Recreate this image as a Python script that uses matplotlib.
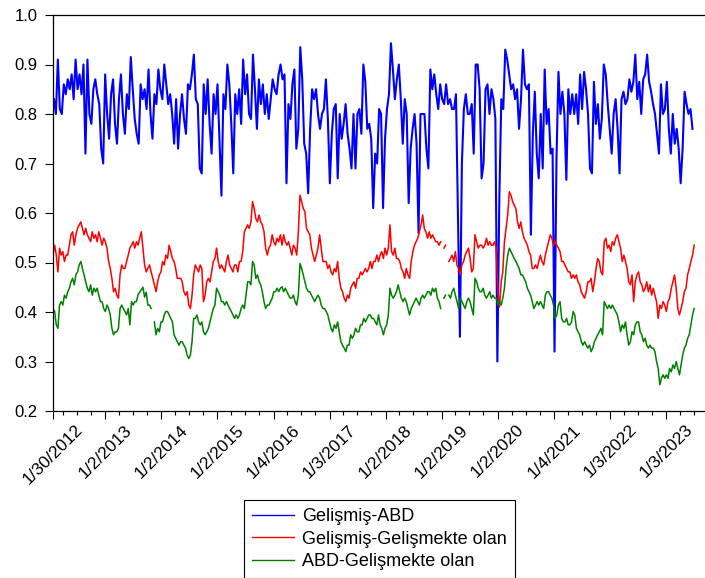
import numpy as np
import pandas as pd
import matplotlib
matplotlib.use("Agg")
import matplotlib.pyplot as plt

plt.rcParams['font.family'] = ['Liberation Sans', 'DejaVu Sans']

# ---------------- data ----------------
series_names = ["Gelişmiş-ABD", "Gelişmiş-Gelişmekte olan", "ABD-Gelişmekte olan"]

blue_start, blue_end = "2012-02-05", "2023-06-22"
rg_start, rg_end = "2012-01-30", "2023-07-03"

nan = np.nan

gelismis_abd = [
    0.83,0.80,0.91,0.81,0.80,0.86,0.84,0.87,0.85,0.88,
    0.83,0.91,0.85,0.88,0.84,0.90,0.72,0.91,0.80,0.78,
    0.85,0.87,0.84,0.82,0.73,0.70,0.88,0.80,0.75,0.84,
    0.87,0.78,0.74,0.83,0.88,0.80,0.76,0.84,0.81,0.915,
    0.85,0.79,0.76,0.74,0.86,0.83,0.85,0.81,0.89,0.80,
    0.75,0.84,0.82,0.89,0.85,0.83,0.90,0.86,0.82,0.84,
    0.80,0.74,0.83,0.73,0.80,0.84,0.79,0.76,0.86,0.85,
    0.88,0.92,0.83,0.82,0.69,0.68,0.86,0.80,0.87,0.78,
    0.72,0.84,0.80,0.86,0.75,0.635,0.84,0.81,0.90,0.86,
    0.78,0.68,0.84,0.80,0.85,0.78,0.91,0.84,0.88,0.80,
    0.79,0.92,0.85,0.77,0.87,0.82,0.86,0.80,0.84,0.79,
    # 2016 - 2019
    0.83,0.87,0.85,0.84,0.88,0.90,0.87,0.88,0.66,0.82,
    0.79,0.86,0.89,0.73,0.77,0.935,0.87,0.74,0.72,0.64,
    0.77,0.85,0.83,0.85,0.80,0.77,0.80,0.81,0.87,0.79,
    0.66,0.76,0.81,0.82,0.67,0.80,0.75,0.78,0.82,0.76,
    0.73,0.69,0.80,0.69,0.80,0.81,0.76,0.90,0.865,0.77,
    0.78,0.75,0.61,0.72,0.70,0.81,0.80,0.61,0.75,0.81,
    0.84,0.943,0.89,0.83,0.87,0.90,0.83,0.74,0.83,0.80,
    0.62,0.73,0.77,0.80,0.74,0.56,0.80,0.80,0.80,0.73,
    0.69,0.89,0.85,0.88,0.84,0.81,0.86,0.83,0.82,0.86,
    0.82,0.83,0.81,0.81,0.84,0.60,0.35,0.70,0.81,0.84,
    0.80,0.80,0.82,0.72,0.90,0.90,0.85,0.67,
    # 2020 - 2023
    0.70,0.85,0.86,0.80,0.85,0.83,0.79,0.30,0.63,0.83,
    0.81,0.93,0.91,0.88,0.85,0.86,0.83,0.85,0.77,0.83,
    0.93,0.86,0.85,0.86,0.556,0.76,0.845,0.72,0.67,0.80,
    0.69,0.89,0.78,0.81,0.72,0.73,0.32,0.71,0.885,0.80,
    0.845,0.80,0.667,0.85,0.80,0.84,0.80,0.84,0.78,0.88,
    0.81,0.885,0.85,0.80,0.69,0.68,0.865,0.78,0.82,0.75,
    0.79,0.90,0.88,0.82,0.77,0.72,0.80,0.83,0.77,0.68,
    0.83,0.845,0.82,0.83,0.87,0.845,0.865,0.92,0.83,0.865,
    0.80,0.87,0.88,0.92,0.865,0.845,0.82,0.80,0.76,0.72,
    0.86,0.80,0.81,0.865,0.77,0.72,0.80,0.74,0.77,0.73,
    0.66,0.73,0.845,0.82,0.80,0.81,0.77,
]

gelismis_gelismekte = [
    0.515,0.535,0.515,0.481,0.529,0.515,0.522,0.502,0.515,0.515,
    0.535,0.556,0.562,0.535,0.556,0.569,0.576,0.582,0.569,0.556,
    0.569,0.556,0.549,0.542,0.562,0.549,0.556,0.542,0.562,0.549,
    0.535,0.549,0.542,0.529,0.502,0.488,0.468,0.441,0.448,0.434,
    0.428,0.475,0.495,0.488,0.488,0.502,0.515,0.529,0.535,0.542,
    0.529,0.542,0.535,0.549,0.562,0.529,0.495,0.481,0.488,0.495,
    0.481,0.468,0.455,0.441,0.461,0.475,0.481,0.502,0.495,0.515,
    0.508,0.535,0.522,0.508,0.502,0.488,0.468,0.468,0.468,0.461,
    0.441,0.434,0.441,0.414,0.407,0.434,0.475,0.495,0.488,0.481,
    0.495,0.488,0.421,0.434,0.461,0.468,0.461,0.481,0.502,0.508,
    0.529,0.502,0.488,0.495,0.488,0.481,0.502,0.515,0.495,0.488,
    0.481,0.495,0.495,0.481,0.502,0.502,0.522,0.562,0.569,0.576,
    0.569,0.582,0.623,0.609,0.589,0.582,0.596,0.582,0.576,0.562,
    0.529,0.515,
    # 2016 - 2019
    0.529,0.535,0.556,0.542,0.535,0.549,0.542,0.556,0.535,0.556,
    0.542,0.535,0.542,0.529,0.515,0.535,0.529,0.515,0.562,0.636,
    0.623,0.609,0.603,0.569,0.562,0.556,0.529,0.515,0.502,0.515,
    0.529,0.556,0.529,0.502,0.502,0.502,0.488,0.495,0.481,0.475,
    0.488,0.481,0.502,0.468,0.448,0.441,0.428,0.421,0.434,0.428,
    0.448,0.455,0.461,0.448,0.468,0.468,0.481,0.475,0.481,0.488,
    0.481,0.488,0.502,0.488,0.502,0.502,0.515,0.502,0.515,0.522,
    0.508,0.529,0.515,0.529,0.576,0.522,0.515,0.529,0.508,0.508,
    0.502,0.488,0.481,0.468,0.488,0.475,0.468,0.502,0.522,0.535,
    0.542,0.549,0.562,0.576,0.596,0.569,0.562,0.549,0.562,0.549,
    0.556,0.549,0.542,0.542,0.535,0.542,nan,0.529,0.535,nan,
    0.502,0.508,0.515,0.502,0.522,0.495,0.488,0.475,0.495,0.502,
    0.515,0.522,0.529,0.508,0.481,0.488,0.556,0.542,0.529,0.535,
    # 2020 - 2023
    0.535,0.529,0.535,0.549,0.535,0.542,0.535,0.535,0.542,0.529,
    0.441,0.410,0.461,0.481,0.542,0.569,0.596,0.643,0.636,0.623,
    0.616,0.609,0.582,0.569,0.582,0.562,0.549,0.542,0.535,0.522,
    0.515,0.488,0.488,0.495,0.488,0.502,0.515,0.502,0.495,0.515,
    0.529,0.542,0.556,0.549,0.535,0.542,0.535,0.529,0.522,0.502,
    0.502,0.495,0.488,0.481,0.481,0.468,0.475,0.468,0.475,0.461,
    0.455,0.441,0.434,0.428,0.441,0.461,0.461,0.468,0.441,0.461,
    0.488,0.508,0.502,0.481,0.475,0.542,0.549,0.529,0.535,0.522,
    0.542,0.535,0.549,0.556,0.542,0.529,0.502,0.515,0.502,0.488,
    0.461,0.455,0.475,0.421,0.461,0.475,0.481,0.461,0.455,0.441,
    0.448,0.461,0.441,0.455,0.434,0.448,0.434,0.421,0.387,0.414,
    0.407,0.421,0.414,0.401,0.421,0.428,0.448,0.461,0.475,0.448,
    0.407,0.394,0.407,0.421,0.441,0.448,0.475,0.488,0.502,0.515,
    0.535,
]

abd_gelismekte = [
    0.407,0.401,0.374,0.367,0.414,0.421,0.414,0.434,0.428,0.441,
    0.448,0.461,0.468,0.455,0.475,0.481,0.495,0.502,0.488,0.475,
    0.461,0.448,0.441,0.455,0.434,0.448,0.441,0.448,0.434,0.421,
    0.421,0.407,0.401,0.414,0.407,0.394,0.367,0.354,0.360,0.360,
    0.367,0.407,0.414,0.407,0.401,0.394,0.407,0.374,0.421,0.414,
    0.421,0.421,0.435,0.440,0.445,0.450,0.430,0.440,0.414,0.414,
    0.407,nan,0.380,0.354,0.367,0.360,0.380,0.380,0.394,0.401,
    0.401,0.394,0.387,0.380,0.354,0.347,0.340,0.333,0.340,0.340,
    0.333,0.327,0.313,0.306,0.313,0.340,0.387,0.387,0.394,0.380,
    0.374,0.380,0.360,0.354,0.360,0.367,0.380,0.394,0.407,0.414,
    0.448,0.441,0.434,0.421,0.421,0.414,0.421,0.414,0.407,0.401,
    0.394,0.387,0.394,0.387,0.394,0.407,0.414,0.407,0.434,0.461,
    0.461,0.455,0.502,0.495,0.468,0.475,0.461,0.455,0.441,0.421,
    0.407,0.414,
    # 2016 - 2019
    0.414,0.421,0.428,0.441,0.441,0.448,0.441,0.448,0.451,0.441,
    0.448,0.441,0.434,0.428,0.428,0.434,0.421,0.414,0.434,0.498,
    0.488,0.475,0.461,0.448,0.441,0.441,0.434,0.428,0.421,0.428,
    0.434,0.428,0.414,0.407,0.407,0.401,0.394,0.380,0.367,0.360,
    0.374,0.367,0.380,0.360,0.340,0.333,0.327,0.320,0.333,0.333,
    0.354,0.347,0.354,0.367,0.360,0.360,0.374,0.374,0.387,0.380,
    0.387,0.394,0.394,0.387,0.387,0.380,0.374,0.394,0.374,0.367,
    0.354,0.367,0.374,0.394,0.448,0.434,0.428,0.434,0.441,0.455,
    0.441,0.428,0.421,0.428,0.421,0.407,0.394,0.407,0.414,0.421,
    0.428,0.421,0.414,0.428,0.434,0.428,0.434,0.441,0.441,0.434,
    0.448,0.441,0.448,0.428,0.421,0.407,nan,0.428,0.434,nan,
    0.434,0.428,0.441,0.448,0.434,0.421,0.407,0.428,0.421,0.414,
    0.407,0.421,0.428,0.421,0.407,0.394,0.468,0.461,0.448,0.441,
    # 2020 - 2023
    0.441,0.448,0.434,0.428,0.434,0.441,0.428,0.434,0.428,0.428,
    0.414,0.421,0.414,0.428,0.448,0.488,0.515,0.529,0.522,0.515,
    0.508,0.502,0.495,0.488,0.475,0.475,0.468,0.461,0.448,0.441,
    0.434,0.421,0.407,0.414,0.421,0.414,0.421,0.414,0.407,0.434,
    0.441,0.441,0.434,0.428,0.414,0.387,0.394,0.414,0.421,0.387,
    0.380,0.380,0.387,0.374,0.374,0.380,0.401,0.394,0.367,0.360,
    0.354,0.340,0.333,0.340,0.333,0.327,0.333,0.320,0.327,0.340,
    0.347,0.354,0.360,0.367,0.354,0.421,0.414,0.407,0.414,0.407,
    0.414,0.407,0.401,0.394,0.380,0.360,0.374,0.367,0.380,0.354,
    0.333,0.340,0.360,0.354,0.374,0.380,0.380,0.360,0.354,0.340,
    0.347,0.333,0.327,0.333,0.327,0.327,0.320,0.300,0.286,0.253,
    0.266,0.273,0.266,0.273,0.266,0.286,0.279,0.293,0.286,0.300,
    0.286,0.273,0.293,0.313,0.327,0.333,0.347,0.354,0.374,0.394,
    0.407,
]

tick_dates = ["2012-01-30", "2013-01-02", "2014-01-02", "2015-01-02", "2016-01-04",
              "2017-01-03", "2018-01-02", "2019-01-02", "2020-01-02", "2021-01-04",
              "2022-01-03", "2023-01-03"]
tick_labels = ["1/30/2012", "1/2/2013", "1/2/2014", "1/2/2015", "1/4/2016", "1/3/2017",
               "1/2/2018", "1/2/2019", "1/2/2020", "1/4/2021", "1/3/2022", "1/3/2023"]
x_min, x_max = "2012-01-30", "2023-07-31"
y_ticks = [0.2, 0.3, 0.4, 0.5, 0.6, 0.7, 0.8, 0.9, 1.0]
colors = ["#0000FF", "#FF0000", "#008000"]

# ---------------- figure ----------------
W, H = 705, 578
fig = plt.figure(figsize=(W / 100, H / 100), dpi=100)
ax = fig.add_axes([53 / W, 1 - 411 / H, (708 - 53) / W, (411 - 15) / H])

blue_dates = pd.date_range(blue_start, blue_end, periods=len(gelismis_abd))
red_dates = pd.date_range(rg_start, rg_end, periods=len(gelismis_gelismekte))
green_dates = pd.date_range(rg_start, rg_end, periods=len(abd_gelismekte))

l1, = ax.plot(blue_dates, gelismis_abd, color=colors[0], lw=1.5)
l2, = ax.plot(red_dates, gelismis_gelismekte, color=colors[1], lw=1.1)
l3, = ax.plot(green_dates, abd_gelismekte, color=colors[2], lw=1.1)

ax.set_xlim(pd.Timestamp(x_min), pd.Timestamp(x_max))
ax.set_ylim(0.2, 1.0)
ax.set_yticks(y_ticks)
ax.set_yticklabels([f"{v:.1f}" for v in y_ticks])

ax.set_xticks(pd.to_datetime(tick_dates))
ax.set_xticklabels(tick_labels, rotation=45, ha="center", va="top")
minor = []
for yr in range(2012, 2024):
    for m in (4, 7, 10):
        minor.append(pd.Timestamp(yr, m, 1))
ax.set_xticks(minor, minor=True)

ax.tick_params(axis="y", direction="out", length=6, width=0.8, labelsize=12, pad=5)
ax.tick_params(axis="x", which="major", direction="out", length=6, width=0.8, labelsize=12.5, pad=2)
ax.tick_params(axis="x", which="minor", direction="out", length=3, width=0.8)
ax.spines["right"].set_visible(False)
for s in ("left", "bottom", "top"):
    ax.spines[s].set_linewidth(0.9)

leg = fig.legend([l1, l2, l3], series_names, loc="upper left",
                 bbox_to_anchor=(244 / W, 1 - 500 / H), bbox_transform=fig.transFigure,
                 borderaxespad=0, frameon=True, fancybox=False, framealpha=1,
                 edgecolor="black", prop={"size": 13}, handlelength=2.3,
                 handletextpad=0.45, labelspacing=0.3, borderpad=0.45)
leg.get_frame().set_linewidth(0.8)
for h in leg.get_lines():
    h.set_linewidth(1.0)

fig.savefig("out.png", dpi=100)
